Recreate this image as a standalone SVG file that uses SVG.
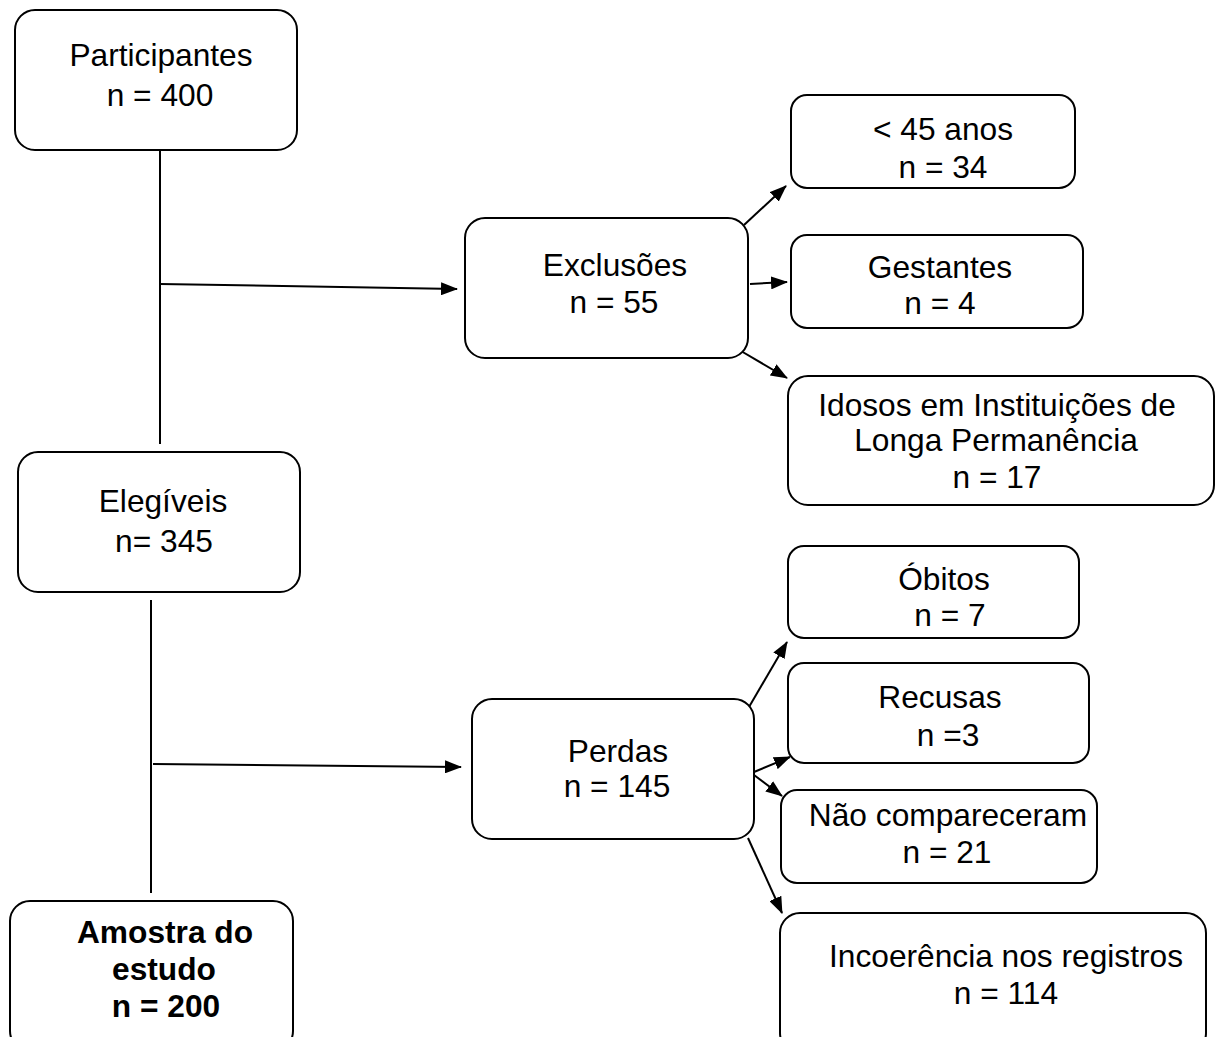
<svg xmlns="http://www.w3.org/2000/svg" width="1217" height="1037" viewBox="0 0 1217 1037">
<defs>
<marker id="ah" markerWidth="17" markerHeight="13" refX="16" refY="6.5" orient="auto" markerUnits="userSpaceOnUse">
<path d="M0,0 L17,6.5 L0,13 z" fill="#000"/>
</marker>
<style>
.box{fill:#fff;stroke:#000;stroke-width:2}
.t{font-family:"Liberation Sans",Arial,sans-serif;font-size:31.7px;fill:#000;text-anchor:middle}
.b{font-weight:bold}
.ln{stroke:#000;stroke-width:2;fill:none}
.ar{stroke:#000;stroke-width:2;fill:none;marker-end:url(#ah)}
</style>
</defs>
<rect width="1217" height="1037" fill="#fff"/>
<g id="connectors">
<line class="ln" x1="160" y1="150" x2="160" y2="444"/>
<line class="ar" x1="160" y1="284" x2="457" y2="289"/>
<line class="ar" x1="744" y1="225" x2="786" y2="186"/>
<line class="ar" x1="750" y1="284" x2="787" y2="282"/>
<line class="ar" x1="741" y1="351" x2="787" y2="378"/>
<line class="ln" x1="151" y1="600" x2="151" y2="893"/>
<line class="ar" x1="153" y1="764" x2="461" y2="767"/>
<line class="ar" x1="749" y1="707" x2="787" y2="642"/>
<line class="ar" x1="754" y1="772" x2="790" y2="757"/>
<line class="ar" x1="754" y1="775" x2="782" y2="796"/>
<line class="ar" x1="748" y1="838" x2="782" y2="913"/>
</g>
<g id="participantes">
<rect class="box" x="15" y="10" width="282" height="140" rx="20"/>
<text class="t" x="161" y="66">Participantes</text>
<text class="t" x="160" y="106">n = 400</text>
</g>
<g id="exclusoes">
<rect class="box" x="465" y="218" width="283" height="140" rx="20"/>
<text class="t" x="615" y="276">Exclusões</text>
<text class="t" x="614" y="313">n = 55</text>
</g>
<g id="menos45">
<rect class="box" x="791" y="95" width="284" height="93" rx="16"/>
<text class="t" x="943" y="140">&lt; 45 anos</text>
<text class="t" x="943" y="178">n = 34</text>
</g>
<g id="gestantes">
<rect class="box" x="791" y="235" width="292" height="93" rx="16"/>
<text class="t" x="940" y="278">Gestantes</text>
<text class="t" x="940" y="314">n = 4</text>
</g>
<g id="idosos">
<rect class="box" x="788" y="376" width="426" height="129" rx="20"/>
<text class="t" x="997" y="416">Idosos em Instituições de</text>
<text class="t" x="996" y="451">Longa Permanência</text>
<text class="t" x="997" y="488">n = 17</text>
</g>
<g id="elegiveis">
<rect class="box" x="18" y="452" width="282" height="140" rx="20"/>
<text class="t" x="163" y="512">Elegíveis</text>
<text class="t" x="164" y="552">n= 345</text>
</g>
<g id="perdas">
<rect class="box" x="472" y="699" width="282" height="140" rx="20"/>
<text class="t" x="618" y="762">Perdas</text>
<text class="t" x="617" y="797">n = 145</text>
</g>
<g id="obitos">
<rect class="box" x="788" y="546" width="291" height="92" rx="16"/>
<text class="t" x="944" y="590">Óbitos</text>
<text class="t" x="950" y="626">n = 7</text>
</g>
<g id="recusas">
<rect class="box" x="788" y="663" width="301" height="100" rx="16"/>
<text class="t" x="940" y="708">Recusas</text>
<text class="t" x="948" y="746">n =3</text>
</g>
<g id="naocompareceram">
<rect class="box" x="781" y="790" width="316" height="93" rx="16"/>
<text class="t" x="948" y="826">Não compareceram</text>
<text class="t" x="947" y="863">n = 21</text>
</g>
<g id="incoerencia">
<rect class="box" x="780" y="913" width="426" height="140" rx="20"/>
<text class="t" x="1006" y="967">Incoerência nos registros</text>
<text class="t" x="1006" y="1004">n = 114</text>
</g>
<g id="amostra">
<rect class="box" x="10" y="901" width="283" height="150" rx="20"/>
<text class="t b" x="165" y="943">Amostra do</text>
<text class="t b" x="164" y="980">estudo</text>
<text class="t b" x="166" y="1017">n = 200</text>
</g>
</svg>
